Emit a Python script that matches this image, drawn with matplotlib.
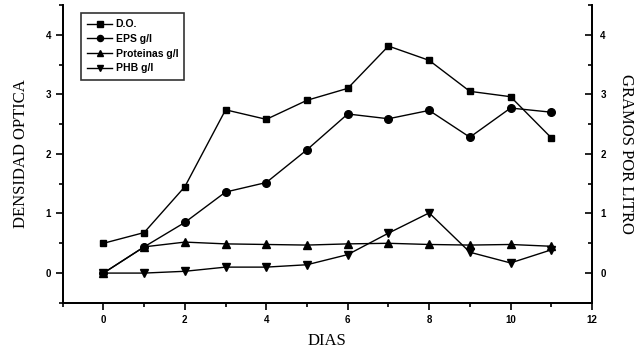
import numpy as np
import matplotlib.pyplot as plt
from matplotlib.ticker import MultipleLocator

dias = [0, 1, 2, 3, 4, 5, 6, 7, 8, 9, 10, 11]
do = [0.50, 0.68, 1.45, 2.74, 2.58, 2.90, 3.10, 3.81, 3.57, 3.05, 2.96, 2.27]
eps = [0.00, 0.44, 0.85, 1.36, 1.52, 2.07, 2.67, 2.59, 2.73, 2.28, 2.77, 2.70]
prot = [0.00, 0.44, 0.52, 0.49, 0.48, 0.47, 0.49, 0.50, 0.48, 0.47, 0.48, 0.45]
phb = [0.00, 0.00, 0.03, 0.10, 0.10, 0.14, 0.31, 0.67, 1.01, 0.35, 0.17, 0.39]

fig = plt.figure(figsize=(6.4, 3.53), dpi=100)
ax = fig.add_axes([0.098, 0.142, 0.827, 0.844])

ax.plot(dias, do, 'k-', marker='s', ms=5, lw=1, label='D.O.')
ax.plot(dias, eps, 'k-', marker='o', ms=5.5, lw=1, label='EPS g/l')
ax.plot(dias, prot, 'k-', marker='^', ms=6, lw=1, label='Proteinas g/l')
ax.plot(dias, phb, 'k-', marker='v', ms=6, lw=1, label='PHB g/l')

ax.set_xlim(-1, 12)
ax.set_ylim(-0.5, 4.5)
ax.xaxis.set_major_locator(MultipleLocator(2))
ax.xaxis.set_minor_locator(MultipleLocator(1))
ax.yaxis.set_major_locator(MultipleLocator(1))
ax.yaxis.set_minor_locator(MultipleLocator(0.5))
ax.set_yticks([0, 1, 2, 3, 4])
ax.spines['top'].set_visible(False)
for s in ax.spines.values():
    s.set_linewidth(1.3)
ax.tick_params(which='both', direction='out', width=1.2, labelsize=7)
ax.tick_params(which='major', length=5)
ax.tick_params(which='minor', length=3)
for lab in ax.get_xticklabels() + ax.get_yticklabels():
    lab.set_fontweight('bold')
    lab.set_family('Liberation Sans')

ax2 = ax.twinx()
ax2.set_ylim(-0.5, 4.5)
ax2.set_yticks([0, 1, 2, 3, 4])
ax2.yaxis.set_minor_locator(MultipleLocator(0.5))
ax2.spines['top'].set_visible(False)
for s in ax2.spines.values():
    s.set_linewidth(1.3)
ax2.tick_params(which='both', direction='in', width=1.2, labelsize=7, pad=6)
ax2.tick_params(which='major', length=5)
ax2.tick_params(which='minor', length=3)
for lab in ax2.get_yticklabels():
    lab.set_fontweight('bold')
    lab.set_family('Liberation Sans')

serif = 'Liberation Serif'
ax.set_xlabel('DIAS', family=serif, fontsize=12, labelpad=6)
ax.set_ylabel('DENSIDAD OPTICA', family=serif, fontsize=12, labelpad=12)
ax2.set_ylabel('GRAMOS POR LITRO', family=serif, fontsize=12, rotation=270, labelpad=20)

leg = ax.legend(loc='upper left', bbox_to_anchor=(0.025, 0.99), frameon=True, fancybox=False,
                edgecolor='black', prop={'family': 'Liberation Sans', 'weight': 'bold', 'size': 7.5},
                handlelength=2.4, handletextpad=0.3, labelspacing=0.45, borderpad=0.6, markerscale=0.8)
leg.get_frame().set_linewidth(1.2)

plt.savefig('out.png', dpi=100)
